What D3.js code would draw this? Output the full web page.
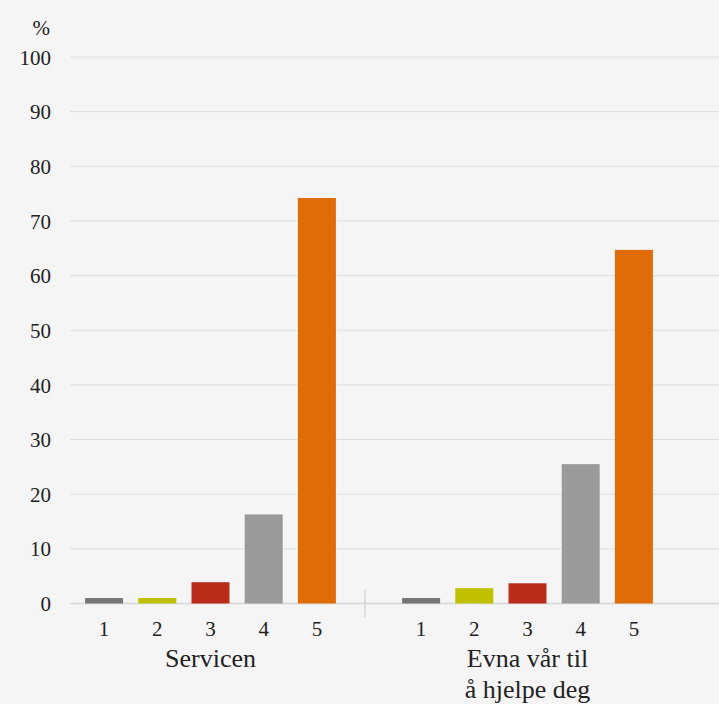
<!DOCTYPE html>
<html>
<head>
<meta charset="utf-8">
<script src="https://cdn.jsdelivr.net/npm/d3@7"></script>
<style>
  html, body { margin: 0; padding: 0; background: #f5f5f5; }
  svg { display: block; }
</style>
</head>
<body>
<svg id="chart" width="719" height="704" font-family="Liberation Serif"></svg>
<script>
// Survey answers on a 1–5 scale, share of respondents in percent
const groups = ["Servicen", "Evna vår til\nå hjelpe deg"];
const scores = ["1", "2", "3", "4", "5"];
const servicen = [1, 1, 3.9, 16.3, 74.2];
const evna = [1, 2.8, 3.7, 25.5, 64.7];
const seriesByGroup = [servicen, evna];
const yTicks = [0, 10, 20, 30, 40, 50, 60, 70, 80, 90, 100];
const unitLabel = "%";
const scoreColors = ["#767676", "#c0bf00", "#bc2c1a", "#9a9a9b", "#e06c07"];

const FONT = '"Liberation Serif"';
const W = 719, H = 704;
const svg = d3.select("#chart");
svg.append("rect").attr("width", W).attr("height", H).attr("fill", "#f5f5f5");

const y = d3.scaleLinear().domain([0, 100]).range([603.5, 57]);
const gridLeft = 70, gridRight = 719;

const xGroup = d3.scaleBand().domain(groups).range([52, 686]).padding(0);
const xScore = d3.scaleBand().domain(scores).range([25.5, 291.5])
  .paddingInner(0.286).paddingOuter(0.143);

// horizontal gridlines
svg.append("g").selectAll("line").data(yTicks).join("line")
  .attr("x1", gridLeft).attr("x2", gridRight)
  .attr("y1", d => y(d)).attr("y2", d => y(d))
  .attr("stroke", d => d === 0 ? "#d6d6d6" : "#dedede")
  .attr("stroke-width", d => d === 0 ? 1.5 : 1);

// y tick labels
const yAxis = d3.axisLeft(y).tickValues(yTicks).tickSize(0).tickPadding(0);
const yG = svg.append("g").attr("transform", "translate(51,0)").call(yAxis);
yG.attr("font-family", "Liberation Serif").attr("font-size", 21);
yG.select(".domain").remove();
yG.selectAll("text")
  .style("font-family", FONT)
  .style("font-size", "21px")
  .attr("fill", "#222")
  .attr("dy", "0.34em");

svg.append("text")
  .attr("x", 50).attr("y", 35)
  .attr("text-anchor", "end")
  .style("font-family", FONT)
  .style("font-size", "21px")
  .attr("fill", "#222")
  .text(unitLabel);

// bars per group
groups.forEach((g, gi) => {
  const gx = xGroup(g);
  const gEl = svg.append("g").attr("transform", `translate(${gx},0)`);
  const vals = seriesByGroup[gi];
  gEl.selectAll("rect").data(scores).join("rect")
    .attr("x", d => xScore(d))
    .attr("width", xScore.bandwidth())
    .attr("y", (d, i) => y(vals[i]))
    .attr("height", (d, i) => y(0) - y(vals[i]))
    .attr("fill", (d, i) => scoreColors[i]);

  // score labels under bars
  const xAxis = d3.axisBottom(xScore).tickSize(0).tickPadding(0);
  const xa = gEl.append("g").attr("transform", "translate(0,620)").call(xAxis);
  xa.attr("font-family", "Liberation Serif").attr("font-size", 21);
  xa.select(".domain").remove();
  xa.selectAll("text")
    .style("font-family", FONT)
    .style("font-size", "21px")
    .attr("fill", "#222")
    .attr("dy", "0.76em");

  // group label, possibly two lines
  const cx = xScore.range()[0] + (xScore.range()[1] - xScore.range()[0]) / 2;
  const lines = g.split("\n");
  const t = gEl.append("text")
    .attr("text-anchor", "middle")
    .style("font-family", FONT)
    .style("font-size", "26px")
    .attr("fill", "#222");
  lines.forEach((ln, li) => {
    t.append("tspan").attr("x", cx).attr("y", 667 + li * 31).text(ln);
  });
});

// separator between the two groups
const sepX = xGroup(groups[1]) - 4;
svg.append("line")
  .attr("x1", sepX).attr("x2", sepX)
  .attr("y1", 589).attr("y2", 617)
  .attr("stroke", "#d6d6d6").attr("stroke-width", 1.5);
</script>
</body>
</html>
